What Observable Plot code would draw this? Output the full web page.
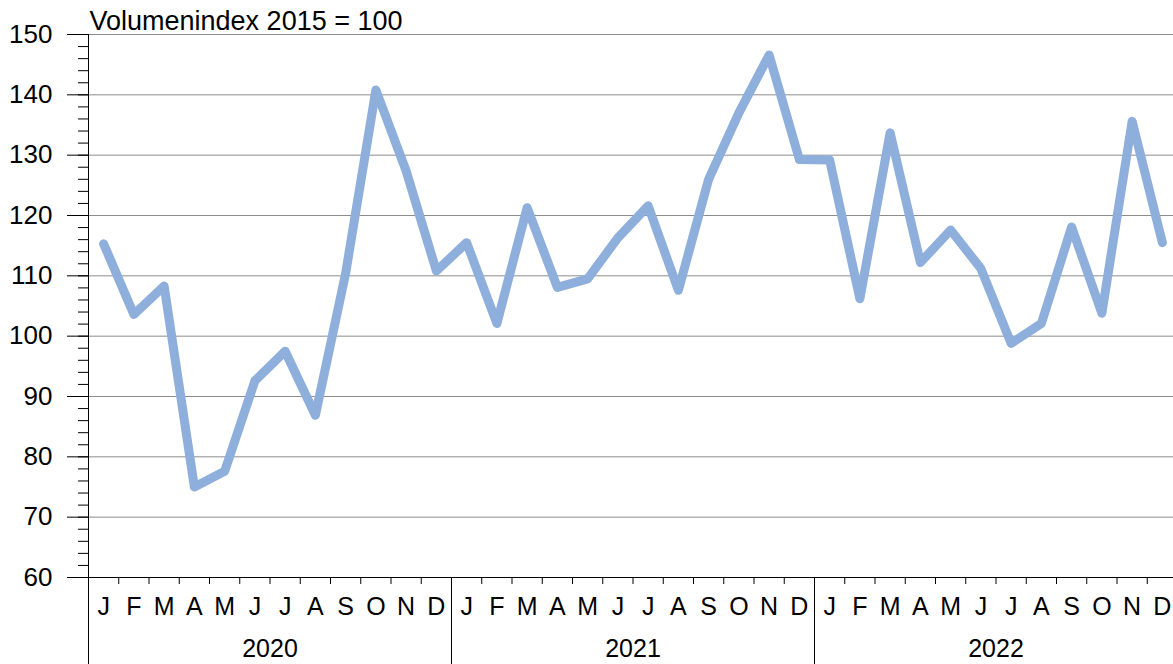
<!DOCTYPE html>
<html>
<head>
<meta charset="utf-8">
<script src="https://cdn.jsdelivr.net/npm/d3@7"></script>
<script src="https://cdn.jsdelivr.net/npm/@observablehq/plot@0.6"></script>
<style>
  html, body { margin: 0; padding: 0; background: #fff; }
  #chart { width: 1173px; height: 664px; overflow: hidden; }
</style>
</head>
<body>
<div id="chart"></div>
<script>
const titleText = "Volumenindex 2015 = 100";
const years = ["2020", "2021", "2022"];
const monthLetters = ["J", "F", "M", "A", "M", "J", "J", "A", "S", "O", "N", "D"];
const values2020 = [115.3, 103.6, 108.3, 75.0, 77.6, 92.6, 97.5, 86.9, 110.4, 140.8, 127.4, 110.8];
const values2021 = [115.5, 102.1, 121.3, 108.1, 109.5, 116.3, 121.6, 107.6, 126.0, 137.0, 146.6, 129.3];
const values2022 = [129.2, 106.2, 133.7, 112.2, 117.6, 111.2, 98.8, 102.1, 118.1, 103.8, 135.6, 115.5];
const yMajorTicks = [60, 70, 80, 90, 100, 110, 120, 130, 140, 150];
const yMinorTicks = d3.range(60, 151, 2);
const gridValues = [70, 80, 90, 100, 110, 120, 130, 140, 150];

const seriesByYear = [values2020, values2021, values2022];
const data = seriesByYear.flatMap((vals, yi) =>
  vals.map((v, mi) => ({ idx: yi * 12 + mi, value: v })));
const monthLabels = years.flatMap((y, yi) =>
  monthLetters.map((m, mi) => ({ idx: yi * 12 + mi, label: m })));
const yearLabels = years.map((y, yi) => ({ idx: yi * 12, label: y }));
const nMonths = data.length;
const monthBounds = d3.range(0, nMonths + 1);
const yearBounds = d3.range(0, nMonths + 1, 12);

const chart = Plot.plot({
  width: 1173,
  height: 664,
  marginTop: 34,
  marginBottom: 87,
  marginLeft: 88,
  marginRight: 0,
  style: { fontFamily: "'Liberation Sans', Arial, sans-serif", fontSize: "26px", background: "#fff", color: "#000" },
  x: { type: "linear", domain: [0, nMonths], range: [88, 1177], axis: null },
  y: { domain: [60, 150], range: [577, 34], axis: null },
  marks: [
    Plot.ruleY(gridValues, { x1: 0, x2: nMonths, stroke: "#8c8c8c", strokeWidth: 1 }),
    Plot.axisY({ ticks: yMinorTicks, tickSize: 10, tickFormat: () => "", label: null }),
    Plot.axisY({ ticks: yMajorTicks, tickSize: 21, tickPadding: 15, fontSize: 26, label: null }),
    Plot.ruleX([0], { y1: 60, y2: 150, stroke: "#000" }),
    Plot.ruleY([60], { x1: 0, x2: nMonths, stroke: "#000" }),
    Plot.axisX({ ticks: monthBounds, tickSize: 7, tickFormat: () => "", label: null }),
    Plot.axisX({ ticks: yearBounds, tickSize: 87, tickFormat: () => "", label: null }),
    Plot.text(monthLabels, { x: d => d.idx + 0.5, text: "label", frameAnchor: "bottom", lineAnchor: "middle", dy: 29, fontSize: 25, fill: "#000" }),
    Plot.text(yearLabels, { x: d => d.idx + 6, text: "label", frameAnchor: "bottom", lineAnchor: "middle", dy: 71, fontSize: 25, fill: "#000" }),
    Plot.line(data, { x: d => d.idx + 0.5, y: "value", stroke: "#8eaedc", strokeWidth: 9, strokeLinejoin: "round", strokeLinecap: "round" }),
    Plot.text([titleText], { frameAnchor: "top-left", textAnchor: "start", lineAnchor: "middle", dx: 1, dy: -13, fontSize: 27, fill: "#000" })
  ]
});
document.getElementById("chart").appendChild(chart);
</script>
</body>
</html>
